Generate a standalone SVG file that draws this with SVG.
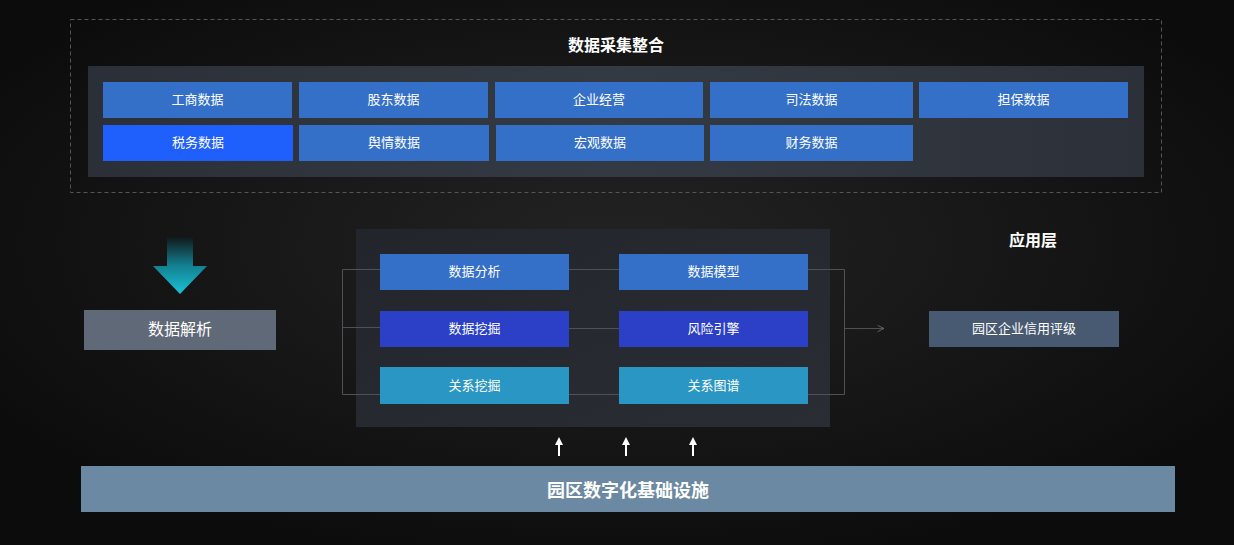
<svg xmlns="http://www.w3.org/2000/svg" width="1234" height="545" viewBox="0 0 1234 545">
<defs>
<radialGradient id="bg" cx="0.5" cy="0.45" r="0.6">
<stop offset="0" stop-color="#232323"/>
<stop offset="1" stop-color="#0c0c0c"/>
</radialGradient>
<linearGradient id="panel" x1="0" y1="0" x2="1" y2="0">
<stop offset="0" stop-color="#2b3038"/>
<stop offset="0.5" stop-color="#343a43"/>
<stop offset="1" stop-color="#2c3139"/>
</linearGradient>
<linearGradient id="panel2" x1="0" y1="0" x2="1" y2="1">
<stop offset="0" stop-color="#22262c"/>
<stop offset="1" stop-color="#2a2e34"/>
</linearGradient>
<linearGradient id="down" x1="0" y1="0" x2="0" y2="1">
<stop offset="0" stop-color="#101818"/>
<stop offset="0.5" stop-color="#137f91"/>
<stop offset="1" stop-color="#1ac3d6"/>
</linearGradient>
<marker id="ah" viewBox="0 0 10 10" refX="9" refY="5" markerWidth="8" markerHeight="8" orient="auto" markerUnits="userSpaceOnUse">
<path d="M1,1 L9,5 L1,9" fill="none" stroke="#666" stroke-width="1.2"/>
</marker>
<style>
text{font-family:"Noto Sans CJK SC","Noto Sans",sans-serif;fill:#ffffff;text-anchor:middle;dominant-baseline:central}
.t{font-size:13px}
.h{font-size:16px;font-weight:bold}
.b1{fill:#3570c8}
.b2{fill:#2b40c6}
.b3{fill:#2a96c4}
.bs{fill:#1f5ffc}
.ln{stroke:#4e5257;stroke-width:1;fill:none}
.up{stroke:#fff;stroke-width:2}
</style>
</defs>
<rect width="1234" height="545" fill="url(#bg)"/>

<g id="collect">
<rect x="70.5" y="19.5" width="1091" height="173" fill="none" stroke="#555" stroke-dasharray="4,3"/>
<text class="h" x="616" y="43.5">数据采集整合</text>
<rect x="88" y="66" width="1056" height="111" fill="url(#panel)"/>
</g>
<g id="n-gongshang"><rect class="b1" x="103" y="82" width="189" height="36"/><text class="t" x="197.5" y="98">工商数据</text></g>
<g id="n-gudong"><rect class="b1" x="299" y="82" width="189" height="36"/><text class="t" x="393.5" y="98">股东数据</text></g>
<g id="n-qiye"><rect class="b1" x="495" y="82" width="208" height="36"/><text class="t" x="599" y="98">企业经营</text></g>
<g id="n-sifa"><rect class="b1" x="710" y="82" width="203" height="36"/><text class="t" x="811.5" y="98">司法数据</text></g>
<g id="n-danbao"><rect class="b1" x="919" y="82" width="209" height="36"/><text class="t" x="1023.5" y="98">担保数据</text></g>
<g id="n-shuiwu"><rect class="bs" x="103" y="125" width="190" height="36"/><text class="t" x="198" y="141">税务数据</text></g>
<g id="n-yuqing"><rect class="b1" x="299" y="125" width="190" height="36"/><text class="t" x="394" y="141">舆情数据</text></g>
<g id="n-hongguan"><rect class="b1" x="496" y="125" width="208" height="36"/><text class="t" x="600" y="141">宏观数据</text></g>
<g id="n-caiwu"><rect class="b1" x="710" y="125" width="203" height="36"/><text class="t" x="811.5" y="141">财务数据</text></g>

<g id="down-arrow">
<path d="M167,237 L193,237 L193,266 L207,266 L180,294 L153,266 L167,266 Z" fill="url(#down)"/>
</g>
<g id="n-jiexi"><rect x="84" y="310" width="192" height="40" fill="#5f6977"/><text x="180" y="328" style="font-size:16px">数据解析</text></g>

<g id="mid-panel"><rect x="356" y="229" width="474" height="198" fill="url(#panel2)"/></g>

<g id="connectors">
<path class="ln" d="M380,269.5 H342.5 V394.5 H380 M342.5,327.5 H380"/>
<path class="ln" d="M569,269.5 H619 M569,328.5 H619 M569,394.5 H619"/>
<path class="ln" d="M808,269.5 H844.5 V394.5 H808"/>
<path class="ln" d="M844.5,328.5 H884" marker-end="url(#ah)"/>
<g id="up-arrows">
<line class="up" x1="559" y1="456" x2="559" y2="444"/><path d="M555,445 L559,437 L563,445 Z" fill="#fff"/>
<line class="up" x1="626" y1="456" x2="626" y2="444"/><path d="M622,445 L626,437 L630,445 Z" fill="#fff"/>
<line class="up" x1="693" y1="456" x2="693" y2="444"/><path d="M689,445 L693,437 L697,445 Z" fill="#fff"/>
</g>
</g>

<g id="n-fenxi"><rect class="b1" x="380" y="254" width="189" height="36"/><text class="t" x="474.5" y="270.5">数据分析</text></g>
<g id="n-moxing"><rect class="b1" x="619" y="254" width="189" height="36"/><text class="t" x="713.5" y="270.5">数据模型</text></g>
<g id="n-wajue"><rect class="b2" x="380" y="311" width="189" height="36"/><text class="t" x="474.5" y="327.5">数据挖掘</text></g>
<g id="n-fengxian"><rect class="b2" x="619" y="311" width="189" height="36"/><text class="t" x="713.5" y="327.5">风险引擎</text></g>
<g id="n-guanxiwajue"><rect class="b3" x="380" y="367" width="189" height="37"/><text class="t" x="474.5" y="384">关系挖掘</text></g>
<g id="n-tupu"><rect class="b3" x="619" y="367" width="189" height="37"/><text class="t" x="713.5" y="384">关系图谱</text></g>

<g id="app">
<text class="h" x="1033" y="239">应用层</text>
</g>
<g id="n-pingji"><rect x="929" y="311" width="190" height="36" fill="#475a72"/><text class="t" x="1024" y="327.5">园区企业信用评级</text></g>

<g id="n-infra"><rect x="81" y="466" width="1094" height="46" fill="#6b89a2"/><text x="628" y="489" style="font-size:18px;font-weight:bold">园区数字化基础设施</text></g>
</svg>
